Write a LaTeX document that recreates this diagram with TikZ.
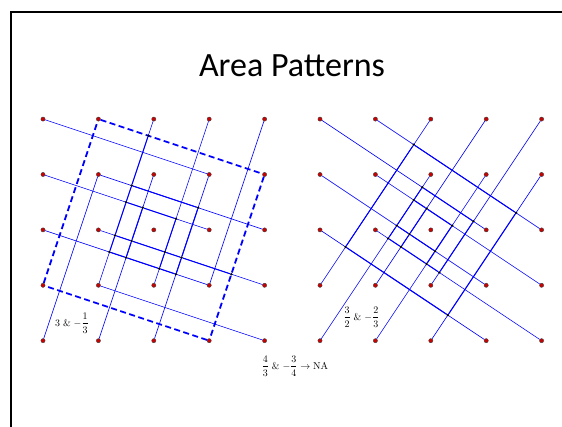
\documentclass[tikz,border=0pt]{standalone}
\usepackage{fontspec}
\usepackage{amsmath}
\newfontfamily\titlefont{Carlito}
\definecolor{dotred}{RGB}{205,0,0}

\begin{document}
\begin{tikzpicture}[x=1pt, y=1pt,
  pnt/.style={circle, draw=black!75, fill=dotred, line width=0.4pt, inner sep=0pt, minimum size=4.2pt},
  hit/.style={circle, fill=black, inner sep=0pt, minimum size=2.6pt},
  seg/.style={draw=blue, line width=0.6pt},
  heavy/.style={draw=blue, line width=1.05pt},
  dsh/.style={draw=blue, line width=1.8pt, dash pattern=on 6pt off 3.5pt},
  lab/.style={font=\fontsize{10}{12}\selectfont, inner sep=0pt}]
  \fill[white] (0,0) rectangle (562,427);
  \useasboundingbox (0,0) rectangle (562,427);
  % slide frame and title
  \draw[line width=1.6pt] (11,0) -- (11,415) -- (562,415);
  \node[anchor=base, font=\titlefont\fontsize{34}{40}\selectfont] (title) at (292,350) {Area Patterns};

  % left lattice: slopes 3 and -1/3
  \begin{scope}[shift={(43pt,86.3pt)}, x=55.4pt, y=55.4pt]
    \foreach \i in {0,...,4}
      \foreach \j in {0,...,4}
        \node[pnt] (L\i\j) at (\i,\j) {};
    % slope -1/3
    \draw[seg] (L04) -- (L33);
    \draw[seg] (L03) -- (L32);
    \draw[seg] (L13) -- (L42);
    \draw[seg] (L02) -- (L31);
    \draw[seg] (L12) -- (L41);
    \draw[seg] (L11) -- (L40);
    % slope 3
    \draw[seg] (L00) -- (L13);
    \draw[seg] (L10) -- (L23);
    \draw[seg] (L20) -- (L33);
    \draw[seg] (L11) -- (L24);
    \draw[seg] (L21) -- (L34);
    \draw[seg] (L31) -- (L44);
    % tilted square
    \draw[dsh] (L01) -- (L14) -- (L43) -- (L30) -- (L01);
    % crossings
    \node[hit] (lAp) at (intersection of L11--L24 and L14--L43) {};
    \node[hit] (lAq) at (intersection of L11--L24 and L13--L42) {};
    \node[hit] (lAr) at (intersection of L11--L24 and L03--L32) {};
    \node[hit] (lAs) at (intersection of L11--L24 and L12--L41) {};
    \node[hit] (lAt) at (intersection of L11--L24 and L02--L31) {};
    \node[hit] (lBr) at (intersection of L10--L23 and L03--L32) {};
    \node[hit] (lBs) at (intersection of L10--L23 and L12--L41) {};
    \node[hit] (lBt) at (intersection of L10--L23 and L02--L31) {};
    \node[hit] (lCr) at (intersection of L21--L34 and L03--L32) {};
    \node[hit] (lCs) at (intersection of L21--L34 and L12--L41) {};
    \node[hit] (lCt) at (intersection of L21--L34 and L02--L31) {};
    \node[hit] (lDq) at (intersection of L20--L33 and L13--L42) {};
    \node[hit] (lDs) at (intersection of L20--L33 and L12--L41) {};
    \node[hit] (lDt) at (intersection of L20--L33 and L02--L31) {};
    \node[hit] (lEs) at (intersection of L30--L43 and L12--L41) {};
    \draw[heavy] (lAp) -- (lAq) -- (lAr) -- (lAs) -- (lAt);
    \draw[heavy] (lAs) -- (lBs) -- (lCs) -- (lDs) -- (lEs);
    \draw[heavy] (lAq) -- (lDq) -- (lDs) -- (lDt) -- (lCt) -- (lBt) -- (lAt);
    \draw[heavy] (lAr) -- (lBr) -- (lCr);
    \draw[heavy] (lBr) -- (lBs) -- (lBt);
    \draw[heavy] (lCr) -- (lCs) -- (lCt);
  \end{scope}
  \node[lab] (lcap) at (72,104) {$3\;\&\;{-}\dfrac{1}{3}$};

  % right lattice: slopes 3/2 and -2/3
  \begin{scope}[shift={(320pt,86.3pt)}, x=55.4pt, y=55.4pt]
    \foreach \i in {0,...,4}
      \foreach \j in {0,...,4}
        \node[pnt] (R\i\j) at (\i,\j) {};
    % slope -2/3
    \draw[seg] (R04) -- (R32);
    \draw[seg] (R14) -- (R42);
    \draw[seg] (R03) -- (R31);
    \draw[seg] (R13) -- (R41);
    \draw[seg] (R02) -- (R30);
    \draw[seg] (R12) -- (R40);
    % slope 3/2
    \draw[seg] (R00) -- (R23);
    \draw[seg] (R10) -- (R33);
    \draw[seg] (R20) -- (R43);
    \draw[seg] (R01) -- (R24);
    \draw[seg] (R11) -- (R34);
    \draw[seg] (R21) -- (R44);
    % crossings
    \node[hit] (rFo) at (intersection of R01--R24 and R14--R42) {};
    \node[hit] (rEo) at (intersection of R20--R43 and R14--R42) {};
    \node[hit] (rEt) at (intersection of R20--R43 and R02--R30) {};
    \node[hit] (rFt) at (intersection of R01--R24 and R02--R30) {};
    \node[hit] (rAp) at (intersection of R00--R23 and R04--R32) {};
    \node[hit] (rDp) at (intersection of R21--R44 and R04--R32) {};
    \node[hit] (rAs) at (intersection of R00--R23 and R12--R40) {};
    \node[hit] (rDs) at (intersection of R21--R44 and R12--R40) {};
    \node[hit] (rAq) at (intersection of R00--R23 and R13--R41) {};
    \node[hit] (rAr) at (intersection of R00--R23 and R03--R31) {};
    \node[hit] (rBq) at (intersection of R11--R34 and R13--R41) {};
    \node[hit] (rBr) at (intersection of R11--R34 and R03--R31) {};
    \node[hit] (rBs) at (intersection of R11--R34 and R12--R40) {};
    \node[hit] (rCq) at (intersection of R10--R33 and R13--R41) {};
    \node[hit] (rCr) at (intersection of R10--R33 and R03--R31) {};
    \node[hit] (rCs) at (intersection of R10--R33 and R12--R40) {};
    \draw[heavy] (rFo) -- (rEo) -- (rEt) -- (rFt) -- (rFo);
    \draw[heavy] (rAp) -- (rAq) -- (rAr) -- (rAs) -- (rBs) -- (rCs) -- (rDs) -- (rDp) -- (rAp);
    \draw[heavy] (rAq) -- (rBq) -- (rCq);
    \draw[heavy] (rAr) -- (rBr) -- (rCr);
    \draw[heavy] (rBq) -- (rBr) -- (rBs);
    \draw[heavy] (rCq) -- (rCr) -- (rCs);
  \end{scope}
  \node[lab] (rcap) at (361.5,110) {$\dfrac{3}{2}\;\&\;{-}\dfrac{2}{3}$};
  \node[lab] (nocap) at (295,61) {$\dfrac{4}{3}\;\&\;{-}\dfrac{3}{4}\rightarrow\mathrm{NA}$};
\end{tikzpicture}
\end{document}
